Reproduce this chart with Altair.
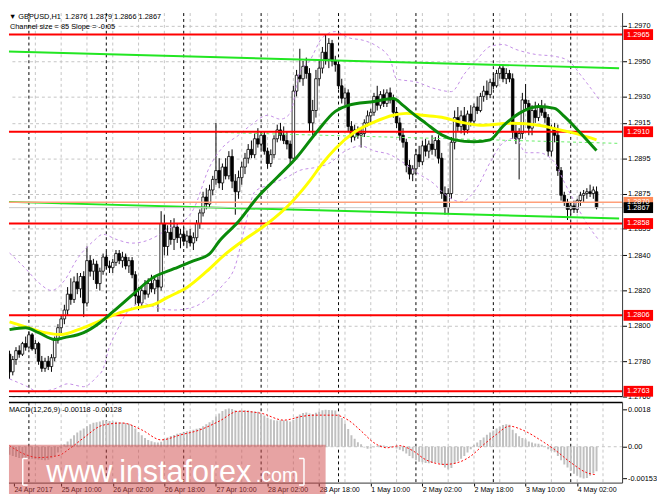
import pandas as pd
import altair as alt

# prices are kept in pips above 1.2700, MACD values in units of 0.00001
BASE = 1.27

opens = [84, 74, 81, 86, 84, 90, 88, 95, 87, 90,
         80, 76, 80, 77, 82, 92, 99, 104, 109, 118,
         115, 125, 121, 128, 113, 137, 131, 135, 124, 131,
         139, 134, 133, 136, 141, 137, 139, 134, 137, 129,
         117, 113, 120, 118, 124, 121, 126, 122, 158, 145,
         153, 149, 156, 150, 152, 148, 151, 147, 150, 158,
         164, 173, 169, 177, 183, 188, 181, 190, 185, 196,
         182, 176, 184, 190, 195, 200, 197, 206, 203, 208,
         199, 192, 197, 206, 211, 208, 205, 203, 195, 233,
         242, 240, 247, 243, 215, 222, 240, 246, 255, 251,
         260, 250, 248, 236, 229, 232, 213, 207, 211, 208,
         209, 215, 219, 221, 230, 225, 231, 226, 232, 228,
         221, 215, 208, 204, 191, 186, 189, 197, 193, 202,
         199, 203, 200, 205, 195, 175, 167, 175, 204, 218,
         213, 219, 211, 220, 216, 224, 222, 230, 233, 231,
         238, 236, 243, 246, 240, 243, 240, 210, 206, 209,
         228, 226, 212, 222, 218, 224, 221, 218, 199, 212,
         208, 188, 174, 170, 166, 168, 166, 171, 174, 175,
         176, 175, 176]
highs = [86, 83, 88, 89, 91, 94, 97, 96, 92, 91,
         83, 82, 83, 84, 94, 101, 106, 112, 122, 127,
         128, 130, 130, 131, 145, 140, 138, 137, 133, 141,
         142, 137, 138, 143, 143, 142, 141, 139, 139, 131,
         122, 122, 126, 127, 129, 128, 128, 165, 163, 157,
         160, 161, 158, 155, 156, 154, 155, 153, 160, 166,
         176, 178, 180, 185, 215, 195, 192, 195, 199, 200,
         186, 188, 193, 198, 203, 205, 209, 212, 210, 210,
         201, 200, 208, 214, 215, 213, 210, 205, 236, 245,
         257, 250, 252, 246, 228, 245, 250, 258, 265, 263,
         262, 253, 249, 240, 235, 234, 216, 214, 213, 212,
         217, 222, 223, 232, 236, 233, 234, 234, 235, 231,
         224, 218, 212, 206, 194, 191, 200, 202, 205, 206,
         205, 208, 207, 208, 198, 179, 178, 207, 222, 224,
         222, 224, 222, 225, 226, 230, 232, 236, 239, 240,
         243, 245, 248, 248, 246, 245, 243, 214, 212, 232,
         237, 228, 225, 227, 226, 228, 226, 220, 214, 215,
         214, 190, 176, 172, 170, 171, 172, 176, 177, 178,
         180, 179, 179]
lows = [70, 72, 78, 82, 83, 86, 87, 86, 84, 78,
        74, 74, 75, 74, 80, 90, 96, 101, 106, 112,
        113, 118, 116, 105, 111, 128, 126, 121, 120, 129,
        132, 130, 130, 134, 135, 133, 132, 130, 127, 112,
        109, 111, 115, 116, 119, 118, 108, 120, 140, 140,
        146, 143, 147, 144, 146, 144, 145, 143, 148, 155,
        162, 166, 167, 174, 180, 178, 177, 183, 183, 178,
        163, 172, 180, 186, 192, 195, 195, 201, 200, 197,
        189, 190, 195, 204, 205, 203, 200, 192, 194, 230,
        238, 236, 240, 210, 208, 218, 236, 243, 248, 246,
        247, 244, 234, 226, 225, 210, 204, 205, 206, 201,
        207, 213, 215, 219, 222, 223, 224, 224, 226, 218,
        212, 205, 201, 187, 183, 182, 186, 190, 191, 196,
        195, 197, 196, 192, 172, 163, 164, 172, 200, 210,
        209, 208, 209, 213, 214, 220, 221, 227, 228, 229,
        234, 235, 240, 238, 237, 238, 206, 203, 183, 206,
        222, 208, 208, 215, 216, 219, 215, 196, 196, 204,
        185, 171, 168, 160, 163, 164, 164, 168, 170, 172,
        173, 172, 166]
closes = [74, 81, 86, 84, 90, 88, 95, 87, 90, 80,
          76, 80, 77, 82, 92, 99, 104, 109, 118, 115,
          125, 121, 128, 113, 137, 131, 135, 124, 131, 139,
          134, 133, 136, 141, 137, 139, 134, 137, 129, 117,
          113, 120, 118, 124, 121, 126, 122, 158, 145, 153,
          149, 156, 150, 152, 148, 151, 147, 150, 158, 164,
          173, 169, 177, 183, 188, 181, 190, 185, 196, 182,
          176, 184, 190, 195, 200, 197, 206, 203, 208, 199,
          192, 197, 206, 211, 208, 205, 203, 195, 233, 242,
          240, 247, 243, 215, 222, 240, 246, 255, 251, 260,
          250, 248, 236, 229, 232, 213, 207, 211, 208, 209,
          215, 219, 221, 230, 225, 231, 226, 232, 228, 221,
          215, 208, 204, 191, 186, 189, 197, 193, 202, 199,
          203, 200, 205, 195, 175, 167, 175, 204, 218, 213,
          219, 211, 220, 216, 224, 222, 230, 233, 231, 238,
          236, 243, 246, 240, 243, 240, 210, 206, 209, 228,
          226, 212, 222, 218, 224, 221, 218, 199, 212, 208,
          188, 174, 170, 166, 168, 166, 171, 174, 175, 176,
          175, 177, 167]

# moving averages (bar index, pips)
ma_green_bars = [0, 5, 9, 14, 17, 23, 28, 32, 38, 44, 51, 57, 62, 65, 71, 77, 83, 89, 95,
                 101, 105, 113, 119, 122, 125, 129, 134, 138, 144, 149, 153, 158, 164, 169,
                 172, 177, 182]
ma_green = [97.9, 99.0, 96.2, 92.3, 93.4, 96.2, 101.8, 107.9, 117.4, 126.8, 132.4, 136.9,
            140.8, 148.0, 159.1, 173.1, 184.2, 195.4, 209.3, 221.5, 224.9, 227.1, 228.8,
            224.9, 220.4, 214.9, 208.2, 205.4, 204.3, 205.4, 213.2, 220.4, 224.3, 223.2,
            218.7, 209.3, 199.3]
ma_yellow_bars = [0, 5, 11, 16, 22, 28, 34, 39, 45, 49, 55, 61, 67, 73, 80, 87, 93, 97, 101,
                  107, 113, 119, 123, 128, 134, 140, 146, 156, 164, 171, 177, 182]
ma_yellow = [102.3, 99.5, 96.2, 95.1, 98.4, 102.9, 107.4, 110.1, 112.3, 116.2, 121.8, 130.7,
             140.8, 149.1, 158.0, 169.2, 182.0, 192.0, 200.4, 209.8, 215.4, 219.3, 220.4,
             219.3, 218.2, 215.4, 213.7, 214.8, 213.7, 210.9, 208.2, 205.4]

# envelope bands (dashed violet)
band_up_bars = [0, 5, 9, 13, 17, 21, 26, 29, 33, 38, 42, 46, 49, 53, 57, 62, 66, 71, 75, 80,
                84, 87, 90, 93, 97, 101, 105, 110, 114, 118, 120, 126, 132, 137, 141, 145,
                149, 153, 157, 163, 169, 173, 178, 183]
band_up = [141.3, 132.4, 124.6, 120.1, 125.7, 138.0, 148.0, 151.9, 149.1, 146.9, 148.0,
           151.3, 155.0, 158.0, 166.0, 190.0, 201.0, 208.0, 214.0, 219.3, 217.1, 220.4,
           244.0, 250.0, 263.3, 266.7, 263.3, 261.6, 258.3, 251.1, 239.9, 238.2, 234.3,
           232.7, 242.7, 251.1, 258.3, 259.4, 256.6, 253.8, 252.7, 250.5, 239.9, 227.7]
band_lo_bars = [0, 5, 9, 14, 18, 23, 27, 29, 31, 33, 37, 41, 45, 51, 57, 62, 66, 70, 73, 76,
                80, 86, 90, 95, 99, 104, 109, 113, 118, 122, 127, 131, 136, 140, 145, 149,
                153, 157, 160, 164, 169, 172, 176, 179, 183]
band_lo = [70.0, 66.1, 62.8, 64.4, 67.2, 65.6, 71.1, 75.6, 88.4, 96.2, 109.0, 112.9, 110.7,
           109.0, 110.7, 116.2, 122.9, 134.1, 156.4, 175.9, 179.7, 184.2, 188.1, 189.8,
           192.0, 199.0, 202.0, 199.2, 197.0, 192.6, 185.9, 181.4, 173.1, 170.3, 178.6,
           192.6, 203.7, 206.5, 198.1, 198.1, 192.6, 181.4, 167.5, 158.0, 148.0]

# regression channel (size 85, slope -0.05)
chan_bars = [-1, 189]
chan_top = [255.5, 246.0]
chan_bot = [170.3, 160.8]
chan_mid_bars = [65, 189]
chan_mid = [209.6, 203.4]

levels = [1.2965, 1.2910, 1.2858, 1.2806, 1.2763]
ask_price = 1.2870
bid_price = 1.2867
price_ticks = [1.2970, 1.2950, 1.2930, 1.2915, 1.2895, 1.2875, 1.2855,
               1.2840, 1.2820, 1.2800, 1.2780, 1.2760]

macd_hist = [-38, -45, -50, -54, -56, -58, -57, -58, -60, -62,
             -64, -65, -63, -56, -45, -28, -8, 12, 25, 38,
             55, 68, 78, 88, 98, 108, 115, 118, 122, 128,
             126, 124, 122, 120, 118, 117, 114, 110, 104, 88,
             70, 55, 42, 32, 26, 22, 20, 24, 38, 45,
             52, 57, 62, 66, 70, 74, 78, 82, 86, 90,
             98, 108, 118, 128, 145, 160, 172, 180, 184, 182,
             176, 172, 174, 176, 175, 172, 170, 168, 160, 150,
             140, 132, 128, 126, 127, 128, 126, 122, 130, 145,
             155, 162, 165, 160, 158, 164, 170, 175, 178, 177,
             176, 174, 158, 138, 112, 85, 55, 38, 22, 12,
             -4, -10, -8, -2, 5, 8, 6, 4, 2, -2,
             -8, -15, -22, -32, -45, -55, -65, -72, -75, -78,
             -80, -78, -76, -78, -88, -100, -108, -102, -82, -70,
             -58, -45, -28, -12, 8, 20, 32, 45, 58, 68,
             78, 88, 96, 104, 108, 106, 82, 65, 50, 42,
             35, 25, 20, 16, 14, 10, 2, -12, -20, -26,
             -45, -65, -85, -100, -115, -130, -140, -148, -153, -150,
             -140, -128, -118]
signal_bars = [0, 5, 9, 15, 19, 23, 29, 35, 41, 47, 53, 59, 65, 71, 78, 85, 91, 95, 101,
               105, 109, 113, 117, 121, 125, 129, 135, 139, 143, 147, 151, 155, 159, 165,
               169, 174, 179, 182]
signal_vals = [5, -38, -52, -43, -5, 43, 104, 114, 81, 33, 57, 81, 123, 171, 161, 128, 147,
               152, 152, 128, 76, 19, -5, 5, -19, -62, -85, -76, -45, 10, 60, 99, 81, 28,
               -14, -76, -125, -135]
macd_ticks = [180, 0, -153]
macd_tick_labels = ["0.0018", "0.00", "-0.00153"]

label_bars = [0, 16, 32, 48, 64, 80, 96, 112, 128, 144, 160, 176]
label_text = ["24 Apr 2017", "25 Apr 10:00", "26 Apr 02:00", "26 Apr 18:00",
              "27 Apr 10:00", "28 Apr 02:00", "28 Apr 18:00", "1 May 10:00",
              "2 May 02:00", "2 May 18:00", "3 May 10:00", "4 May 02:00"]
grid_bars = list(range(8, 189, 8))
day_starts = [6, 30, 54, 78, 102, 126, 150, 174]

X0, X1 = 1.35, 188.55
MW, MH, HH = 624, 390, 82
GRID = "#c4c4c4"
FONT = "Liberation Sans"


def price(v):
    return round(BASE + v / 10000, 5)


bars = pd.DataFrame({
    "bar": range(len(closes)),
    "open": [price(v) for v in opens],
    "high": [price(v) for v in highs],
    "low": [price(v) for v in lows],
    "close": [price(v) for v in closes],
    "dir": ["up" if c >= o else "down" for o, c in zip(opens, closes)],
})


def line_df(b, v):
    return pd.DataFrame({"bar": b, "p": [price(x) for x in v]})


xs = alt.Scale(domain=[X0, X1], nice=False, zero=False)
ys = alt.Scale(domain=[1.2760, 1.29772], nice=False, zero=False)
ms = alt.Scale(domain=[-175, 213], nice=False, zero=False)
one = pd.DataFrame({"a": [0]})

# the same axis object goes into every layer so that Vega-Lite merges them
y_axis = alt.Axis(orient="right", values=price_ticks, format=".4f", grid=True,
                  gridColor=GRID, gridDash=[3, 3], domain=False, tickSize=4,
                  tickColor="black", labelFontSize=7.5, labelColor="black",
                  labelPadding=1, labelFlush=False, labelOverlap=False, title=None)
lab_expr = "[" + ",".join(f"'{t}'" for t in label_text) + "][round(datum.value / 16)]"
x_axis = alt.Axis(values=[X0] + label_bars[1:], labelExpr=lab_expr, grid=False,
                  domain=False, tickSize=3, tickColor="black", labelAlign="left",
                  labelBaseline="top", labelPadding=0, labelFontSize=7.2,
                  labelColor="black", labelFlush=False, labelOverlap=False,
                  labelBound=False, title=None)
m_expr = ("datum.value > 100 ? '%s' : datum.value < -100 ? '%s' : '%s'"
          % (macd_tick_labels[0], macd_tick_labels[2], macd_tick_labels[1]))
m_axis = alt.Axis(orient="right", values=macd_ticks, labelExpr=m_expr, grid=False,
                  domain=False, tickSize=4, tickColor="black", labelFontSize=7.5,
                  labelColor="black", labelPadding=1, labelFlush=False,
                  labelOverlap=False, title=None)

X = alt.X("bar:Q", scale=xs, axis=None)
XM = alt.X("bar:Q", scale=xs, axis=x_axis)


def Y(field):
    return alt.Y(field, scale=ys, axis=y_axis)


def YM(field):
    return alt.Y(field, scale=ms, axis=m_axis)


vgrid = alt.Chart(pd.DataFrame({"bar": grid_bars})).mark_rule(
    color=GRID, strokeDash=[3, 3], clip=True).encode(x=X)
seps = alt.Chart(pd.DataFrame({"bar": day_starts})).mark_rule(
    color="black", strokeDash=[3, 3], clip=True).encode(x=X)

wicks = alt.Chart(bars).mark_rule(color="black", strokeWidth=1, clip=True).encode(
    x=X, y=Y("low:Q"), y2="high:Q")
bodies = alt.Chart(bars).mark_bar(width=2.6, stroke="black", strokeWidth=0.8,
                                  clip=True).encode(
    x=X, y=Y("open:Q"), y2="close:Q",
    fill=alt.Fill("dir:N", scale=alt.Scale(domain=["up", "down"], range=["white", "black"]),
                  legend=None))


def pline(df, **kw):
    return alt.Chart(df).mark_line(clip=True, **kw).encode(x=X, y=Y("p:Q"))


band_u = pline(line_df(band_up_bars, band_up), color="#c38ee6", strokeDash=[3, 3],
               strokeWidth=1, interpolate="monotone")
band_l = pline(line_df(band_lo_bars, band_lo), color="#c38ee6", strokeDash=[3, 3],
               strokeWidth=1, interpolate="monotone")
ch_top = pline(line_df(chan_bars, chan_top), color="#22e622", strokeWidth=2)
ch_bot = pline(line_df(chan_bars, chan_bot), color="#22e622", strokeWidth=2)
ch_mid = pline(line_df(chan_mid_bars, chan_mid), color="#66ee66", strokeWidth=1,
               strokeDash=[3, 3])

ask_line = alt.Chart(pd.DataFrame({"p": [ask_price]})).mark_rule(
    color="#ffa07a", strokeWidth=1.5).encode(y=Y("p:Q"))
bid_line = alt.Chart(pd.DataFrame({"p": [bid_price]})).mark_rule(
    color="#c8c8c8", strokeWidth=1).encode(y=Y("p:Q"))
red_lines = alt.Chart(pd.DataFrame({"p": levels})).mark_rule(
    color="#ff0000", strokeWidth=2).encode(y=Y("p:Q"))

ma_y = pline(line_df(ma_yellow_bars, ma_yellow), color="#ffff00", strokeWidth=3,
             interpolate="monotone")
ma_g = pline(line_df(ma_green_bars, ma_green), color="#0a8a0a", strokeWidth=3,
             interpolate="monotone")

tags = pd.DataFrame({
    "p": levels + [ask_price, bid_price],
    "t": [f"{v:.4f}" for v in levels + [ask_price, bid_price]],
    "bg": ["#ff0000"] * len(levels) + ["#ff8c5a", "#000000"],
})
tag_box = alt.Chart(tags).mark_tick(orient="horizontal", size=30, thickness=11,
                                    opacity=1).encode(
    x=alt.value(640), y=Y("p:Q"), color=alt.Color("bg:N", scale=None))
tag_txt = alt.Chart(tags).mark_text(fontSize=7.5, color="white", align="center",
                                    baseline="middle", font=FONT).encode(
    x=alt.value(640), y=Y("p:Q"), text="t:N")

title1 = alt.Chart(one).mark_text(align="left", baseline="top", fontSize=7.5, font=FONT,
                                  color="black").encode(
    x=alt.value(0), y=alt.value(0),
    text=alt.value("\u25bc GBPUSD,H1\u00a0\u00a01.2876 1.2879 1.2866 1.2867"))
title2 = alt.Chart(one).mark_text(align="left", baseline="top", fontSize=7.5, font=FONT,
                                  color="black").encode(
    x=alt.value(1), y=alt.value(10),
    text=alt.value("Channel size = 85 Slope = -0.05"))

frame_r = alt.Chart(one).mark_rule(color="#333").encode(
    x=alt.value(MW), y=alt.value(0), y2=alt.value(MH))
frame_b = alt.Chart(one).mark_rule(color="black").encode(
    x=alt.value(0), x2=alt.value(MW), y=alt.value(MH))

main = alt.layer(
    vgrid, seps, wicks, bodies, band_u, band_l, ch_top, ch_bot, ch_mid,
    ask_line, bid_line, red_lines, ma_y, ma_g, tag_box, tag_txt, title1, title2,
    frame_r, frame_b
).properties(width=MW, height=MH)

# ---- MACD panel
hist = pd.DataFrame({"bar": range(len(macd_hist)), "h": macd_hist})

m_vgrid = alt.Chart(pd.DataFrame({"bar": grid_bars})).mark_rule(
    color=GRID, strokeDash=[3, 3], clip=True).encode(x=XM)
m_seps = alt.Chart(pd.DataFrame({"bar": day_starts})).mark_rule(
    color="black", strokeDash=[3, 3], clip=True).encode(x=XM)
zero = alt.Chart(pd.DataFrame({"h": [0]})).mark_rule(
    color=GRID, strokeDash=[3, 3]).encode(y=YM("h:Q"))
hbars = alt.Chart(hist).mark_bar(width=2, color="#c0c0c0", clip=True).encode(
    x=XM, y=YM("h:Q"), y2=alt.datum(0))
sig = alt.Chart(pd.DataFrame({"bar": signal_bars, "h": signal_vals})).mark_line(
    color="#ff0000", strokeDash=[2, 2], strokeWidth=1, interpolate="monotone",
    clip=True).encode(x=XM, y=YM("h:Q"))
m_title = alt.Chart(one).mark_text(align="left", baseline="middle", fontSize=7.5,
                                   font=FONT, color="black").encode(
    x=alt.value(0), y=alt.value(8),
    text=alt.value("MACD(12,26,9) -0.00118 -0.00128"))
m_top = alt.Chart(one).mark_rule(color="black", strokeWidth=1.5).encode(
    x=alt.value(0), x2=alt.value(MW), y=alt.value(0))
m_right = alt.Chart(one).mark_rule(color="#333").encode(
    x=alt.value(MW), y=alt.value(0), y2=alt.value(HH))
m_bot = alt.Chart(one).mark_rule(color="#333").encode(
    x=alt.value(0), x2=alt.value(MW), y=alt.value(HH))

# watermark
wm_rect = alt.Chart(one).mark_rect(color="#d04848", opacity=0.5).encode(
    x=alt.value(0), x2=alt.value(322), y=alt.value(43), y2=alt.value(93))
wm_txt = alt.Chart(one).mark_text(align="left", baseline="alphabetic", fontSize=31,
                                  font=FONT, color="white").encode(
    x=alt.value(38), y=alt.value(81), text=alt.value("www.instaforex"))
wm_com = alt.Chart(one).mark_text(align="left", baseline="alphabetic", fontSize=20,
                                  font=FONT, color="white").encode(
    x=alt.value(251), y=alt.value(81), text=alt.value(".com"))


def wrule(x1, x2, y1, y2):
    return alt.Chart(one).mark_rule(color="white", strokeWidth=1.5).encode(
        x=alt.value(x1), x2=alt.value(x2), y=alt.value(y1), y2=alt.value(y2))


brackets = [wrule(14, 14, 57, 84), wrule(14, 19, 57, 57), wrule(14, 19, 84, 84),
            wrule(300, 300, 57, 84), wrule(295, 300, 57, 57), wrule(295, 300, 84, 84)]

macd = alt.layer(
    m_vgrid, m_seps, zero, hbars, sig, m_title, m_top, m_right, m_bot,
    wm_rect, wm_txt, wm_com, *brackets
).properties(width=MW, height=HH)

chart = alt.vconcat(main, macd, spacing=1).properties(
    padding=0, background="white"
).configure(font=FONT).configure_view(strokeWidth=0)

chart.save("out.html", embed_options={"renderer": "svg", "actions": False})
